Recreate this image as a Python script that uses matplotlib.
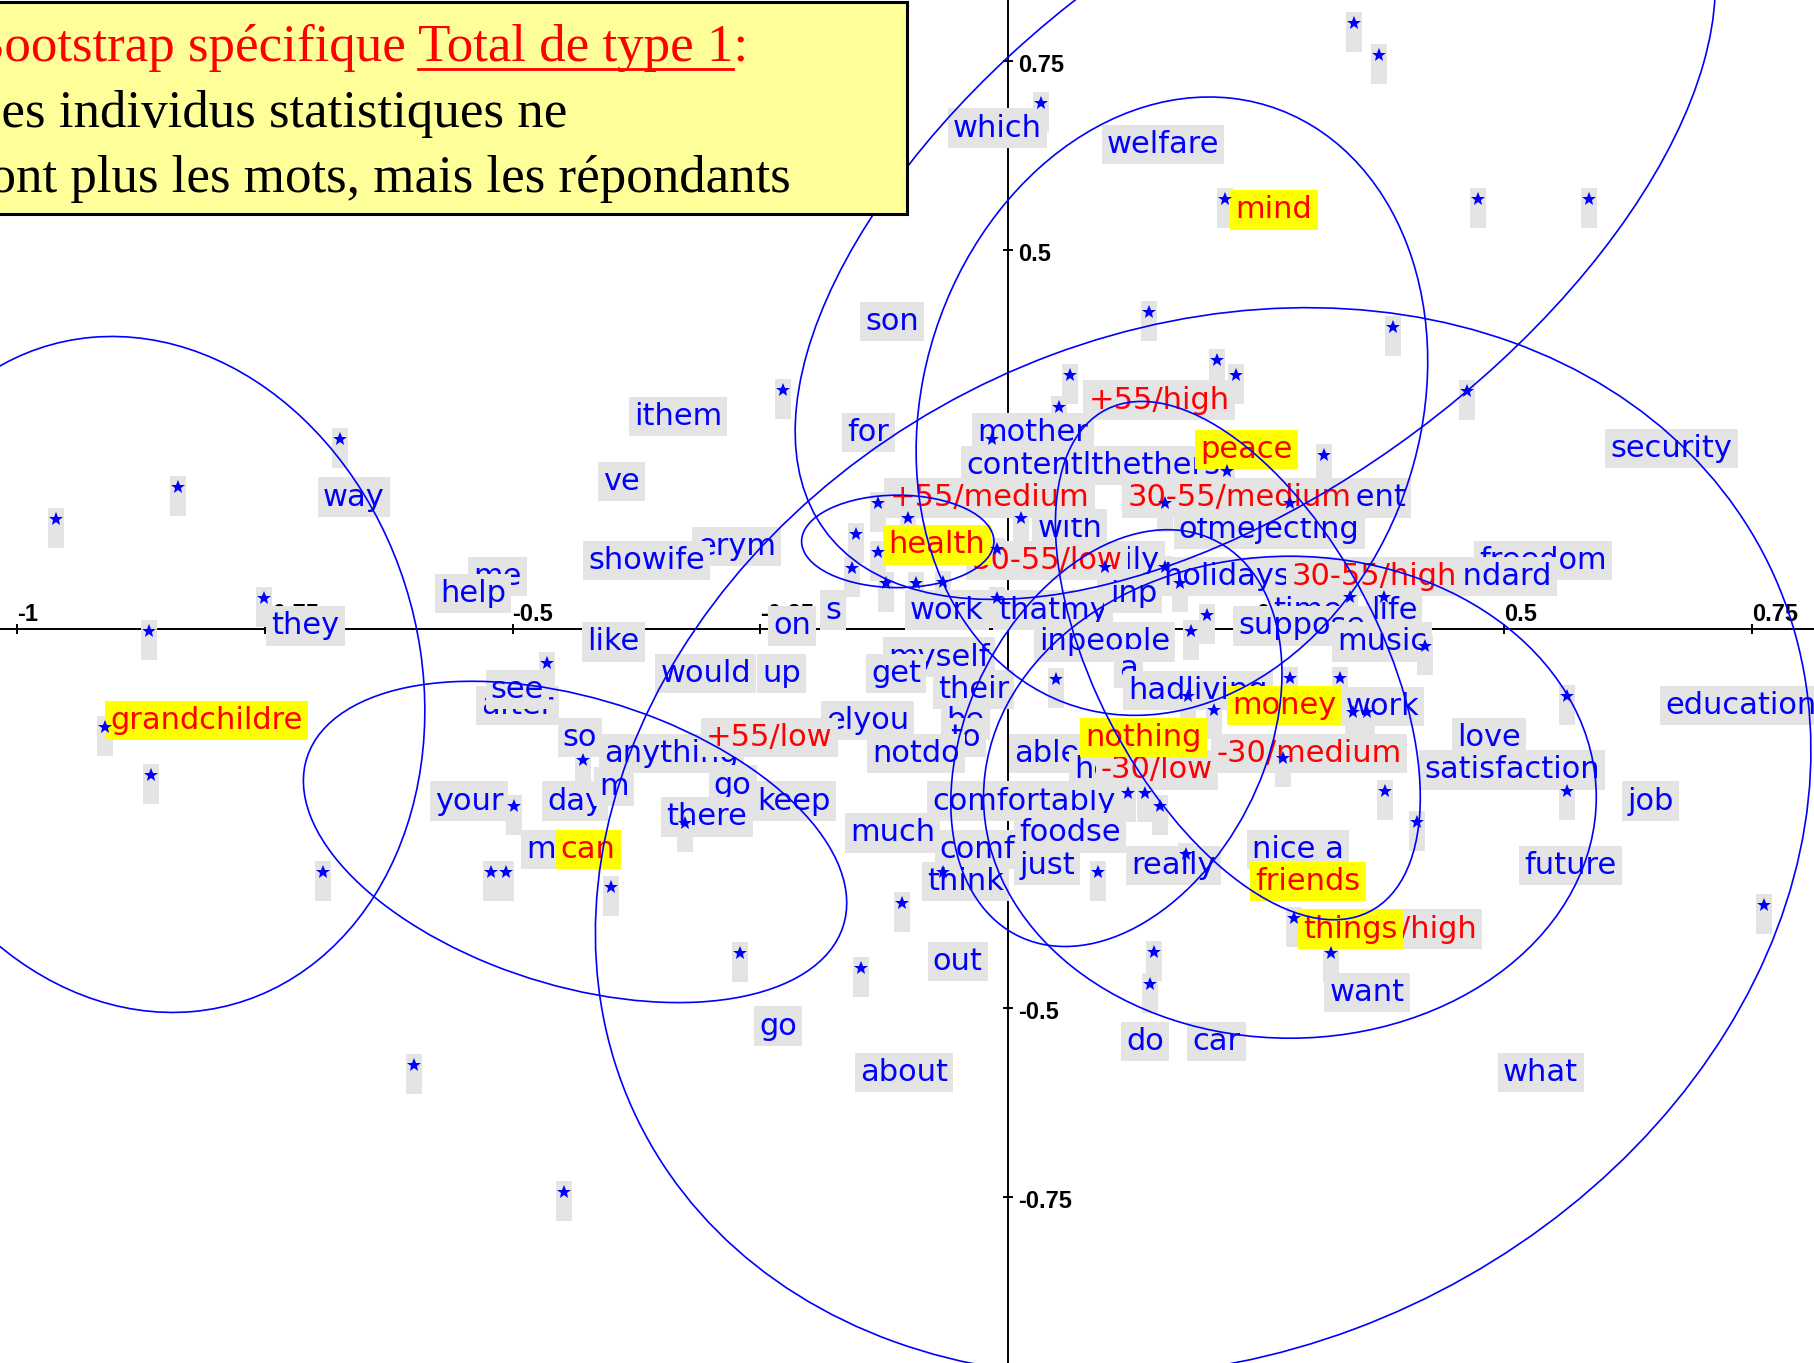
import numpy as np
import matplotlib
matplotlib.use("Agg")
import matplotlib.pyplot as plt
from matplotlib.patches import Ellipse, Rectangle
from matplotlib.path import Path
from matplotlib.lines import Line2D
from matplotlib.text import Text

# ---------------------------------------------------------------- data
x_ticks = [-1, -0.75, -0.5, -0.25, 0.25, 0.5, 0.75]
x_tick_labels = ["-1", "-0.75", "-0.5", "-0.25", "0.25", "0.5", "0.75"]
y_ticks = [0.75, 0.5, 0.25, -0.25, -0.5, -0.75]
y_tick_labels = ["0.75", "0.5", "0.25", "-0.25", "-0.5", "-0.75"]

# bootstrap replicates of the respondents
star_x = [0.349, 0.374, 0.033, 0.219, 0.474, 0.586, 0.142, 0.388, 0.062, 0.210,
          0.230, 0.463, -0.227, 0.051, -0.016, -0.131, -0.101, -0.154, -0.131, -0.158,
          -0.123, -0.093, -0.066, 0.013, -0.011, -0.011, 0.158, 0.097, 0.158, 0.173,
          0.318, 0.221, 0.284, 0.345, 0.379, 0.200, 0.184, 0.420, 0.284, 0.335,
          0.181, 0.207, 0.348, 0.362, 0.563, 0.277, 0.380, 0.563, 0.153, 0.412,
          0.179, -0.674, -0.837, -0.961, -0.751, -0.867, -0.465, -0.911, -0.865, -0.429,
          -0.499, -0.326, -0.691, -0.522, -0.507, -0.401, -0.271, -0.149, -0.599, -0.448,
          0.048, -0.066, 0.090, 0.121, 0.138, -0.107, 0.147, 0.143, 0.288, 0.325, 0.762]
star_y = [0.799, 0.757, 0.694, 0.567, 0.567, 0.567, 0.418, 0.398, 0.335, 0.355,
          0.335, 0.314, 0.316, 0.293, 0.251, 0.166, 0.146, 0.125, 0.102, 0.080,
          0.061, 0.061, 0.062, 0.146, 0.105, 0.041, 0.166, 0.082, 0.082, 0.061,
          0.230, 0.209, 0.166, 0.042, 0.042, 0.018, -0.003, -0.023, -0.065, -0.065,
          -0.088, -0.107, -0.109, -0.109, -0.088, -0.170, -0.214, -0.214, -0.234, -0.255,
          -0.297, 0.251, 0.187, 0.145, 0.041, -0.003, -0.045, -0.129, -0.193, -0.173,
          -0.234, -0.256, -0.321, -0.321, -0.321, -0.341, -0.427, -0.448, -0.575, -0.743,
          -0.066, -0.321, -0.321, -0.216, -0.216, -0.362, -0.426, -0.468, -0.382, -0.428, -0.364]

# words
word_text = ["which", "welfare", "son", "ithem", "for", "mother", "contentlthethers", "ve",
             "way", "erym", "showife", "me", "help", "with", "ofmejecting", "enjoyment",
             "family", "freedom", "standard", "holidays", "work", "thatmy", "inp", "time",
             "life", "suppose", "music", "s", "on", "inpeople", "like", "they",
             "would", "up", "myself", "get", "their", "a", "hadliving", "work",
             "after", "see", "so", "anything", "elyou", "be", "to", "notdo",
             "able", "love", "satisfaction", "education", "job", "your", "day", "m",
             "go", "keep", "there", "comfortably", "much", "foodse", "comf", "just",
             "really", "think", "nice a", "future", "m", "out", "want", "go",
             "do", "car", "about", "what", "security", "he"]
word_x = [-0.011, 0.156, -0.117, -0.333, -0.141, 0.025, 0.086, -0.390,
          -0.660, -0.274, -0.365, -0.515, -0.540, 0.062, 0.263, 0.319,
          0.105, 0.539, 0.480, 0.220, -0.062, 0.045, 0.126, 0.302,
          0.389, 0.296, 0.377, -0.177, -0.218, 0.097, -0.398, -0.709,
          -0.305, -0.229, -0.070, -0.113, -0.035, 0.121, 0.191, 0.377,
          -0.495, -0.495, -0.432, -0.340, -0.142, -0.043, -0.043, -0.093,
          0.039, 0.485, 0.508, 0.739, 0.648, -0.544, -0.437, -0.398,
          -0.278, -0.216, -0.304, 0.016, -0.117, 0.062, -0.031, 0.039,
          0.167, -0.043, 0.292, 0.567, -0.471, -0.051, 0.362, -0.232,
          0.138, 0.210, -0.105, 0.537, 0.669, 0.086]
word_y = [0.661, 0.639, 0.406, 0.280, 0.259, 0.259, 0.216, 0.195,
          0.174, 0.109, 0.090, 0.069, 0.047, 0.132, 0.131, 0.173,
          0.090, 0.090, 0.069, 0.069, 0.025, 0.025, 0.047, 0.025,
          0.025, 0.004, -0.017, 0.025, 0.004, -0.017, -0.017, 0.004,
          -0.059, -0.059, -0.037, -0.059, -0.080, -0.052, -0.081, -0.102,
          -0.101, -0.080, -0.143, -0.164, -0.121, -0.121, -0.143, -0.164,
          -0.164, -0.143, -0.186, -0.101, -0.227, -0.227, -0.227, -0.208,
          -0.206, -0.227, -0.248, -0.227, -0.269, -0.269, -0.291, -0.312,
          -0.312, -0.333, -0.291, -0.312, -0.291, -0.439, -0.480, -0.524,
          -0.544, -0.544, -0.585, -0.585, 0.238, -0.186]

# supplementary categories (age / income)
cat_text = ["+55/high", "+55/medium", "30-55/medium", "30-55/low", "30-55/high",
            "+55/low", "-30/low", "-30/medium", "/high"]
cat_x = [0.152, -0.019, 0.233, 0.039, 0.369, -0.241, 0.150, 0.303, 0.434]
cat_y = [0.302, 0.173, 0.173, 0.090, 0.069, -0.143, -0.186, -0.164, -0.396]

# words with a confidence region
key_text = ["mind", "peace", "health", "grandchildre", "money", "nothing",
            "friends", "things", "can"]
key_x = [0.268, 0.240, -0.072, -0.809, 0.278, 0.136, 0.302, 0.345, -0.424]
key_y = [0.553, 0.237, 0.111, -0.121, -0.101, -0.143, -0.333, -0.396, -0.291]

# confidence regions: centre, half-extent along x and y, correlation
ell_cx = [-0.8735, -0.437, 0.165, 0.249, 0.1965, -0.1115, 0.2315, 0.109, 0.284]
ell_cy = [-0.060, -0.281, 0.294, 0.555, -0.281, 0.1156, -0.0417, -0.144, -0.222]
ell_rx = [0.285, 0.274, 0.258, 0.464, 0.613, 0.097, 0.184, 0.167, 0.309]
ell_ry = [0.446, 0.212, 0.408, 0.516, 0.705, 0.061, 0.342, 0.275, 0.318]
ell_rho = [-0.107, -0.38, 0.145, 0.57, 0.171, 0.0, -0.527, 0.31, 0.0]

# ---------------------------------------------------------------- style
BLUE = "#0000ff"
RED = "#ff0000"
GREY = "#e4e4e4"
YELLOW = "#ffff00"
W, H = 1814, 1363
LABEL_FONT = "DejaVu Sans"
LABEL_SIZE = 22
BOX = dict(boxstyle="square,pad=0.17", ec="none")

fig = plt.figure(figsize=(W / 100, H / 100), dpi=100)
ax = fig.add_axes([0, 0, 1, 1])
ax.set_xlim(-1.017, 0.8126)
ax.set_ylim(-0.9686, 0.830)
ax.axis("off")

# axes through the origin
ax.axhline(0, color="black", lw=1.4, zorder=1)
ax.axvline(0, color="black", lw=1.4, zorder=1)
ax.plot(x_ticks, np.zeros(len(x_ticks)), ls="none", marker="|", ms=7, mew=1.4,
        color="black", zorder=1)
ax.plot(np.zeros(len(y_ticks)), y_ticks, ls="none", marker="_", ms=7, mew=1.4,
        color="black", zorder=1)
for t, lab in zip(x_ticks, x_tick_labels):
    ax.annotate(lab, (t, 0), xytext=(0, 5.8), textcoords="offset points",
                ha="left", va="baseline", fontsize=17, fontweight="bold",
                family="Liberation Sans", zorder=1.5)
for t, lab in zip(y_ticks, y_tick_labels):
    ax.annotate(lab, (0, t), xytext=(7.2, -8), textcoords="offset points",
                ha="left", va="baseline", fontsize=17, fontweight="bold",
                family="Liberation Sans", zorder=1.5)

# replicate markers: grey tag under a small blue star
tag = Path([(-8, 11), (8, 11), (8, -29), (-8, -29), (-8, 11)],
           [Path.MOVETO, Path.LINETO, Path.LINETO, Path.LINETO, Path.CLOSEPOLY])
ax.plot(star_x, star_y, ls="none", marker=tag, ms=41.76, mew=0, mfc=GREY, zorder=2)
ax.plot(star_x, star_y, ls="none", marker="*", ms=10.5, mew=0, mfc=BLUE, zorder=4.8)

for s, x, y in zip(word_text, word_x, word_y):
    ax.text(x, y, s, ha="center", va="center", color=BLUE, fontsize=LABEL_SIZE,
            family=LABEL_FONT, bbox=dict(fc=GREY, **BOX), zorder=3)
for s, x, y in zip(cat_text, cat_x, cat_y):
    ax.text(x, y, s, ha="center", va="center", color=RED, fontsize=LABEL_SIZE,
            family=LABEL_FONT, bbox=dict(fc=GREY, **BOX), zorder=4)
for s, x, y in zip(key_text, key_x, key_y):
    ax.text(x, y, s, ha="center", va="center", color=RED, fontsize=LABEL_SIZE,
            family=LABEL_FONT, bbox=dict(fc=YELLOW, **BOX), zorder=4.5)

# confidence ellipses from centre / spread / correlation
for cx, cy, rx, ry, r in zip(ell_cx, ell_cy, ell_rx, ell_ry, ell_rho):
    cov = np.array([[rx ** 2, r * rx * ry], [r * rx * ry, ry ** 2]])
    vals, vecs = np.linalg.eigh(cov)
    order = vals.argsort()[::-1]
    vals, vecs = vals[order], vecs[:, order]
    ang = np.degrees(np.arctan2(vecs[1, 0], vecs[0, 0]))
    ax.add_patch(Ellipse((cx, cy), 2 * np.sqrt(vals[0]), 2 * np.sqrt(vals[1]),
                         angle=ang, fill=False, ec=BLUE, lw=1.2, zorder=5))

# ---------------------------------------------------------------- caption box
fig.add_artist(Rectangle((-10 / W, 1 - 214 / H), 917 / W, 212 / H,
                         transform=fig.transFigure, fc="#ffff99", ec="black",
                         lw=2.2, zorder=10))
CAP_SIZE = 38.2
serif = dict(family="Liberation Serif", fontsize=CAP_SIZE, va="baseline", zorder=11)
x0 = -31 / W
fig.text(x0, 1 - 61 / H, "Bootstrap spécifique Total de type 1:", color=RED, **serif)
fig.text(x0, 1 - 127 / H, "Les individus statistiques ne", color="black", **serif)
fig.text(x0, 1 - 192 / H, "sont plus les mots, mais les répondants", color="black", **serif)

renderer = fig.canvas.get_renderer()


def text_width(s):
    t = Text(0, 0, s, family="Liberation Serif", fontsize=CAP_SIZE, figure=fig)
    return t.get_window_extent(renderer).width


end_u = x0 * W + text_width("Bootstrap spécifique Total de type 1")
start_u = end_u - text_width("Total de type 1")
fig.add_artist(Line2D([start_u / W, end_u / W], [1 - 69 / H, 1 - 69 / H],
                      color=RED, lw=2.0, transform=fig.transFigure, zorder=11))

fig.savefig("out.png", dpi=100)
